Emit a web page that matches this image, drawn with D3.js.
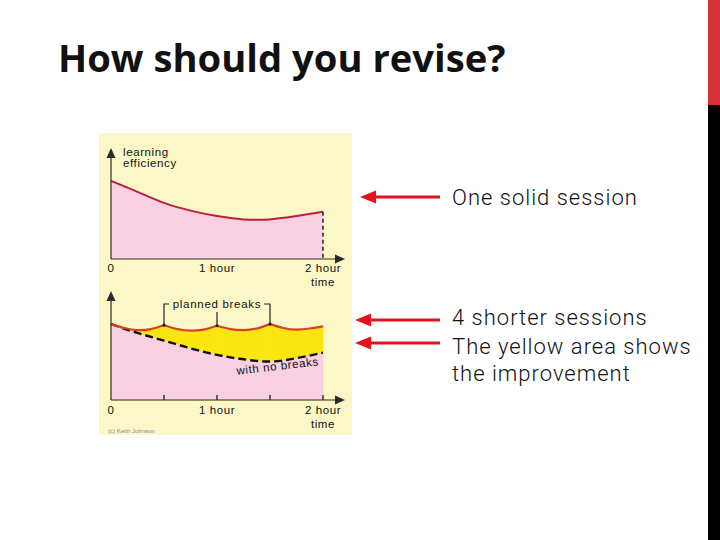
<!DOCTYPE html>
<html><head><meta charset="utf-8">
<script src="https://cdn.jsdelivr.net/npm/d3@7"></script>
<style>html,body{margin:0;padding:0;background:#fff;}svg{display:block;}</style>
</head><body>
<script>
// ---- data ----
const titleText = "How should you revise?";
const hours = [0, 0.25, 0.5, 0.75, 1, 1.25, 1.5, 1.75, 2];
const solidSession = [71, 61, 51, 44, 39, 36, 36, 39, 43];
const noBreaks = [69, 61, 54, 47, 41, 37, 35, 38, 43];
const sessionTimes = [
  [0, 0.125, 0.25, 0.375, 0.5],
  [0.5, 0.625, 0.75, 0.875, 1],
  [1, 1.125, 1.25, 1.375, 1.5],
  [1.5, 1.625, 1.75, 1.875, 2]
];
const sessionValues = [
  [69, 65.5, 63.5, 64.5, 68],
  [68, 64.5, 63, 64, 67.5],
  [67.5, 64.5, 63.5, 65, 69],
  [69, 65.5, 64, 65, 67]
];
const breakTimes = [0.5, 1, 1.5];
const bottomTicks = [0.5, 1, 1.5, 2];
const xLabels = [{t: 0, s: "0"}, {t: 1, s: "1 hour"}, {t: 2, s: "2 hour"}];
const captions = ["One solid session", "4 shorter sessions", "The yellow area shows", "the improvement"];

// ---- drawing ----
const W = 720, H = 540;
const svg = d3.select("body").append("svg").attr("width", W).attr("height", H);
svg.append("rect").attr("width", W).attr("height", H).attr("fill", "#fff");

// right side bar
svg.append("rect").attr("x", 708).attr("y", 0).attr("width", 12).attr("height", 105).attr("fill", "#d7323a");
svg.append("rect").attr("x", 708).attr("y", 105).attr("width", 12).attr("height", 435).attr("fill", "#000");

// title
svg.append("text").attr("x", 58).attr("y", 72).text(titleText)
  .attr("font-family", "Open Sans, sans-serif").attr("font-weight", "bold")
  .attr("font-size", 38.2).attr("fill", "#111");

// picture panel
svg.append("rect").attr("x", 99).attr("y", 133).attr("width", 253).attr("height", 302).attr("fill", "#fcf7c6");

const x = d3.scaleLinear().domain([0, 2]).range([111, 323]);
const yTop = d3.scaleLinear().domain([0, 100]).range([259, 149]);
const yBot = d3.scaleLinear().domain([0, 100]).range([400, 290]);

const pink = "#f9cfe2", curveCol = "#b8203e", yellow = "#fbe510", axisCol = "#2a2a2a";
const chartFont = "Liberation Sans, Arial, sans-serif";

function axes(y0, yTopTip) {
  const g = svg.append("g");
  g.append("line").attr("x1", x(0)).attr("x2", 337).attr("y1", y0).attr("y2", y0).attr("stroke", axisCol).attr("stroke-width", 1.2);
  g.append("path").attr("d", `M345,${y0} L335,${y0-4.5} L335,${y0+4.5} Z`).attr("fill", axisCol);
  g.append("line").attr("x1", x(0)).attr("x2", x(0)).attr("y1", y0).attr("y2", yTopTip + 8).attr("stroke", axisCol).attr("stroke-width", 1.2);
  g.append("path").attr("d", `M${x(0)},${yTopTip} L${x(0)-4.5},${yTopTip+10} L${x(0)+4.5},${yTopTip+10} Z`).attr("fill", axisCol);
}
function labels(base, timeBase) {
  svg.selectAll(null).data(xLabels).enter().append("text")
    .attr("x", d => x(d.t)).attr("y", base).attr("text-anchor", "middle")
    .attr("font-family", chartFont).attr("font-size", 11.5).attr("letter-spacing", 0.6)
    .attr("fill", "#111").text(d => d.s);
  svg.append("text").attr("x", x(2)).attr("y", timeBase).attr("text-anchor", "middle")
    .attr("font-family", chartFont).attr("font-size", 11.5).attr("letter-spacing", 0.6)
    .attr("fill", "#111").text("time");
}

// ---- top chart: one solid session ----
const topData = hours.map((h, i) => ({t: h, v: solidSession[i]}));
svg.append("path").datum(topData)
  .attr("d", d3.area().x(d => x(d.t)).y0(yTop(0)).y1(d => yTop(d.v)).curve(d3.curveNatural))
  .attr("fill", pink);
svg.append("path").datum(topData)
  .attr("d", d3.line().x(d => x(d.t)).y(d => yTop(d.v)).curve(d3.curveNatural))
  .attr("fill", "none").attr("stroke", curveCol).attr("stroke-width", 2);
svg.append("line").attr("x1", x(2)).attr("x2", x(2)).attr("y1", yTop(solidSession[solidSession.length-1])).attr("y2", yTop(0))
  .attr("stroke", "#222").attr("stroke-width", 1.5).attr("stroke-dasharray", "4,3");
axes(yTop(0), 148);
labels(272, 286);
svg.append("text").attr("x", 123).attr("y", 156).attr("font-family", chartFont).attr("font-size", 11.5)
  .attr("letter-spacing", 0.6).attr("fill", "#111").text("learning");
svg.append("text").attr("x", 123).attr("y", 166.5).attr("font-family", chartFont).attr("font-size", 11.5)
  .attr("letter-spacing", 0.6).attr("fill", "#111").text("efficiency");

// ---- bottom chart: with breaks ----
const sessions = sessionTimes.map((ts, k) => ts.map((t, i) => ({t: t, v: sessionValues[k][i]})));
const yArea = d3.area().x(d => x(d.t)).y0(yBot(0)).y1(d => yBot(d.v)).curve(d3.curveNatural);
svg.selectAll(null).data(sessions).enter().append("path")
  .attr("d", yArea).attr("fill", yellow).attr("stroke", yellow).attr("stroke-width", 0.6);
const nbData = hours.map((h, i) => ({t: h, v: noBreaks[i]}));
svg.append("path").datum(nbData).attr("d", yArea).attr("fill", pink);
svg.append("path").datum(nbData)
  .attr("d", d3.line().x(d => x(d.t)).y(d => yBot(d.v)).curve(d3.curveNatural))
  .attr("fill", "none").attr("stroke", "#111").attr("stroke-width", 2.4).attr("stroke-dasharray", "8,4");
svg.selectAll(null).data(sessions).enter().append("path")
  .attr("d", d3.line().x(d => x(d.t)).y(d => yBot(d.v)).curve(d3.curveNatural))
  .attr("fill", "none").attr("stroke", "#d8402a").attr("stroke-width", 2.2);
axes(yBot(0), 291);
svg.selectAll(null).data(bottomTicks).enter().append("line")
  .attr("x1", d => x(d)).attr("x2", d => x(d)).attr("y1", yBot(0)).attr("y2", yBot(0) - 5)
  .attr("stroke", axisCol).attr("stroke-width", 1.4);
labels(414, 428);

// planned breaks bracket
const peakY = t => { for (let k = 0; k < sessionTimes.length; k++) { const i = sessionTimes[k].indexOf(t); if (i >= 0) return yBot(sessionValues[k][i]); } };
const bracket = svg.append("g").attr("stroke", "#222").attr("stroke-width", 1.2).attr("fill", "none");
bracket.append("path").attr("d", `M${x(0.5)+5},304 L${x(0.5)},304 L${x(0.5)},${peakY(0.5)}`);
bracket.append("path").attr("d", `M${x(1.5)-6},304 L${x(1.5)},304 L${x(1.5)},${peakY(1.5)}`);
bracket.append("path").attr("d", `M${x(1)},312 L${x(1)},${peakY(1)}`);
svg.selectAll(null).data(breakTimes).enter().append("circle")
  .attr("cx", d => x(d)).attr("cy", d => peakY(d)).attr("r", 1.6).attr("fill", "#222");
svg.append("text").attr("x", 217).attr("y", 307.5).attr("text-anchor", "middle")
  .attr("font-family", chartFont).attr("font-size", 11.5).attr("letter-spacing", 0.7)
  .attr("fill", "#111").text("planned breaks");
svg.append("text").attr("transform", "translate(278,370) rotate(-6.5)").attr("text-anchor", "middle")
  .attr("font-family", chartFont).attr("font-size", 11.5).attr("letter-spacing", 0.6)
  .attr("fill", "#111").text("with no breaks");
svg.append("text").attr("x", 108).attr("y", 433).attr("font-family", chartFont).attr("font-size", 6)
  .attr("fill", "#8a8a8a").text("(c) Keith Johnson");

// ---- arrows and captions ----
const arrows = [{y: 197, tip: 360}, {y: 320, tip: 355}, {y: 343, tip: 355}];
arrows.forEach(a => {
  svg.append("line").attr("x1", a.tip + 12).attr("x2", 440).attr("y1", a.y).attr("y2", a.y)
    .attr("stroke", "#e3121c").attr("stroke-width", 3);
  svg.append("path").attr("d", `M${a.tip},${a.y} L${a.tip+16},${a.y-6.5} L${a.tip+16},${a.y+6.5} Z`).attr("fill", "#e3121c");
});
const capY = [205, 325, 354, 381];
svg.selectAll(null).data(captions).enter().append("text")
  .attr("x", 452).attr("y", (d, i) => capY[i]).text(d => d)
  .attr("font-family", "Roboto, sans-serif").attr("font-weight", 300)
  .attr("font-size", 22).attr("letter-spacing", 1.0)
  .attr("fill", "#111");
</script>
</body></html>
